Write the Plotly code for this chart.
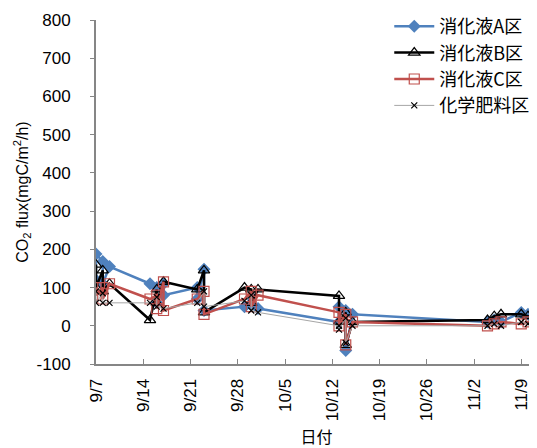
import plotly.graph_objects as go

dates_a = ["09-07","09-07","09-08","09-08","09-09","09-15","09-16","09-16","09-17","09-17","09-22","09-22","09-23","09-23",
           "09-29","09-30","09-30","10-01","10-13","10-13","10-14","10-14","10-15","11-04","11-05","11-06","11-09","11-10","11-11"]
vals_a = [120,188,168,110,155,110,100,60,110,80,100,70,148,40,50,75,55,45,10,50,40,-65,30,10,15,10,35,30,20]

dates_b = ["09-07","09-07","09-08","09-08","09-09","09-15","09-16","09-16","09-17","09-22","09-23","09-23",
           "09-29","09-30","09-30","10-01","10-13","10-13","10-14","10-14","10-15","11-04","11-05","11-06","11-09","11-10","11-11"]
vals_b = [160,100,145,90,110,15,95,60,115,95,145,35,100,95,60,95,78,10,35,-50,10,15,25,30,30,25,20]

dates_c = ["09-07","09-07","09-08","09-08","09-09","09-15","09-16","09-16","09-17","09-17","09-22","09-23","09-23",
           "09-29","09-30","09-30","10-01","10-13","10-13","10-14","10-14","10-15","11-04","11-05","11-06","11-09","11-10","11-11"]
vals_c = [100,80,100,70,110,70,80,45,115,40,70,90,30,70,90,50,80,35,0,30,-50,10,0,5,10,5,10,5]

dates_d = ["09-07","09-07","09-08","09-08","09-09","09-15","09-16","09-16","09-17","09-22","09-23","09-23",
           "09-29","09-30","09-30","10-01","10-13","10-13","10-14","10-14","10-15","11-04","11-05","11-06","11-09","11-10","11-11"]
vals_d = [90,60,85,60,60,60,75,50,45,60,90,50,65,80,40,35,0,-10,20,-45,0,0,5,0,10,5,0]

names = ["消化液A区", "消化液B区", "消化液C区", "化学肥料区"]
tick_dates = ["09-07","09-14","09-21","09-28","10-05","10-12","10-19","10-26","11-02","11-09"]
tick_labels = ["9/7","9/14","9/21","9/28","10/5","10/12","10/19","10/26","11/2","11/9"]
y_ticks = [-100, 0, 100, 200, 300, 400, 500, 600, 700, 800]
y_labels = ["-100", "0", "100", "200", "300", "400", "500", "600", "700", "800"]

def full(ds):
    return ["2013-" + d for d in ds]

fig = go.Figure()
fig.add_trace(go.Scatter(x=full(dates_a), y=vals_a, name=names[0], mode="lines+markers",
    line=dict(color="#4F81BD", width=2.5),
    marker=dict(symbol="diamond", size=10, color="#4F81BD")))
fig.add_trace(go.Scatter(x=full(dates_b), y=vals_b, name=names[1], mode="lines+markers",
    line=dict(color="#000000", width=2.5),
    marker=dict(symbol="triangle-up-open", size=10, color="#000000", line=dict(width=1.2))))
fig.add_trace(go.Scatter(x=full(dates_c), y=vals_c, name=names[2], mode="lines+markers",
    line=dict(color="#C0504D", width=2.5),
    marker=dict(symbol="square-open", size=10, color="#C0504D", line=dict(width=1.2))))
fig.add_trace(go.Scatter(x=full(dates_d), y=vals_d, name=names[3], mode="lines+markers",
    line=dict(color="#A6A6A6", width=1),
    marker=dict(symbol="x-thin-open", size=6, color="#000000", line=dict(width=1.2, color="#000000"))))

# page body has an 8px default margin; compensate so the figure fills the 537x448 window
fig.update_layout(
    width=529, height=440,
    margin=dict(l=88, r=0, t=12, b=84),
    plot_bgcolor="white", paper_bgcolor="white",
    font=dict(family="Liberation Sans, Noto Sans CJK JP", size=17, color="#000000"),
    showlegend=True,
    legend=dict(x=0.665, y=1.036, xanchor="left", yanchor="top", bgcolor="rgba(0,0,0,0)",
                font=dict(family="Noto Sans CJK JP, Liberation Sans", size=18), tracegroupgap=0,
                itemwidth=40),
    xaxis=dict(
        type="date", automargin=False,
        range=["2013-09-07", "2013-11-11 08:00"],
        tickvals=full(tick_dates), ticktext=tick_labels, tickangle=-90,
        showline=True, linecolor="#868686", linewidth=2,
        ticks="inside", ticklen=5, tickcolor="#868686",
        ticklabelstandoff=6,
        showgrid=False, zeroline=False,
        title=dict(text="日付", font=dict(family="Noto Sans CJK JP", size=16), standoff=12),
    ),
    yaxis=dict(
        range=[-100, 800], automargin=False,
        tickvals=y_ticks, ticktext=y_labels,
        showline=True, linecolor="#868686", linewidth=2,
        ticks="outside", ticklen=4, tickcolor="#868686",
        ticklabelstandoff=16,
        showgrid=False, zeroline=False,
        title=dict(text="CO<sub>2</sub> flux(mgC/m<sup>2</sup>/h)", font=dict(size=16), standoff=4),
    ),
)

fig.write_html("out.html")
